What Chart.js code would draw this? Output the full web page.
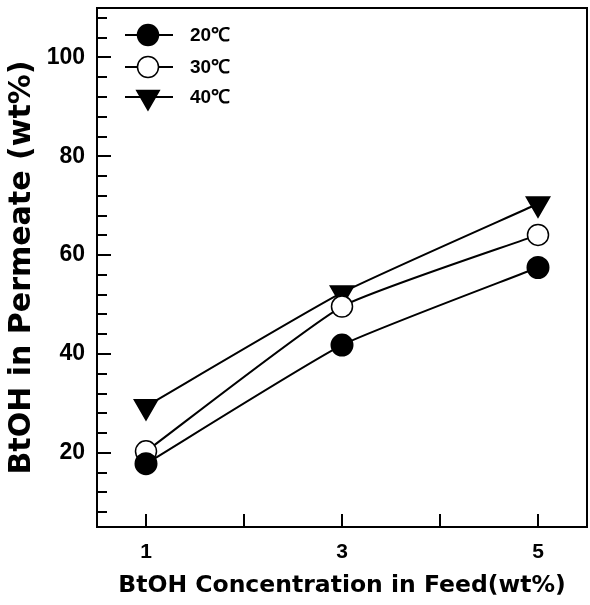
<!DOCTYPE html>
<html>
<head>
<meta charset="utf-8">
<script src="https://cdn.jsdelivr.net/npm/chart.js@4.4.0/dist/chart.umd.min.js"></script>
<style>
  html, body { margin: 0; padding: 0; background: #fff; overflow: hidden; }
  #wrap { width: 590px; height: 605px; }
</style>
</head>
<body>
<div id="wrap"><canvas id="mycanvas"></canvas></div>
<script>
// data
var feed = [1, 3, 5];
var t20 = [17.8, 41.8, 57.5];
var t30 = [20.3, 49.6, 64.1];
var t40 = [29.4, 52.4, 70.4];
var seriesNames = ['20℃', '30℃', '40℃'];

// axis ticks
var xTicks = [1, 2, 3, 4, 5];
var xLabels = [1, 3, 5];
var yTicks = [8, 12, 16, 20, 24, 28, 32, 36, 40, 44, 48, 52, 56, 60, 64, 68, 72, 76, 80, 84, 88, 92, 96, 100, 104, 108];
var yLabels = [20, 40, 60, 80, 100];

var font = "'Liberation Sans', Arial, sans-serif";
var titleFont = "'DejaVu Sans', 'Liberation Sans', sans-serif";

function toPts(ys) {
    var out = [];
    for (var i in ys) out.push({ x: feed[i], y: ys[i] });
    return out;
}

// inward tick marks, frame and the legend inside the plot
var decor = {
    id: 'decor',
    afterDraw: function(chart) {
        var ctx = chart.ctx;
        var a = chart.chartArea;
        var xs = chart.scales.x, ys = chart.scales.y;
        ctx.save();
        ctx.strokeStyle = '#000';
        ctx.lineWidth = 2;
        ctx.strokeRect(a.left, a.top, a.right - a.left, a.bottom - a.top);
        ctx.beginPath();
        yTicks.forEach(function(v) {
            var py = Math.round(ys.getPixelForValue(v));
            var len = yLabels.indexOf(v) >= 0 ? 14 : 10;
            ctx.moveTo(a.left, py);
            ctx.lineTo(a.left + len, py);
        });
        xTicks.forEach(function(v) {
            var px = Math.round(xs.getPixelForValue(v));
            ctx.moveTo(px, a.bottom);
            ctx.lineTo(px, a.bottom - 13);
        });
        ctx.stroke();

        // legend
        var lx = a.left + 28, rowY = [35, 67, 97];
        chart.data.datasets.forEach(function(ds, i) {
            var y = rowY[i];
            ctx.strokeStyle = '#000';
            ctx.lineWidth = 2;
            ctx.beginPath();
            ctx.moveTo(lx, y);
            ctx.lineTo(lx + 48, y);
            ctx.stroke();
            ctx.fillStyle = ds.pointBackgroundColor;
            ctx.lineWidth = 1.5;
            Chart.helpers.drawPoint(ctx, {
                pointStyle: ds.pointStyle,
                rotation: ds.pointRotation || 0,
                radius: ds.pointRadius,
                borderWidth: 1.5
            }, lx + 23, y);
            ctx.fillStyle = '#000';
            ctx.font = 'bold 19px ' + font;
            ctx.textBaseline = 'middle';
            ctx.fillText(ds.label, lx + 65, y + 1);
        });
        ctx.restore();
    }
};

var chartdata = {
    datasets: [
        {
            label: seriesNames[0],
            data: toPts(t20),
            borderColor: '#000',
            borderWidth: 2,
            pointStyle: 'circle',
            pointRadius: 10.5,
            pointBackgroundColor: '#000',
            pointBorderColor: '#000',
            tension: 0.15
        },
        {
            label: seriesNames[1],
            data: toPts(t30),
            borderColor: '#000',
            borderWidth: 2,
            pointStyle: 'circle',
            pointRadius: 10.5,
            pointBackgroundColor: '#fff',
            pointBorderColor: '#000',
            pointBorderWidth: 1.5,
            tension: 0.15
        },
        {
            label: seriesNames[2],
            data: toPts(t40),
            borderColor: '#000',
            borderWidth: 2,
            pointStyle: 'triangle',
            pointRotation: 180,
            pointRadius: 13,
            pointBackgroundColor: '#000',
            pointBorderColor: '#000',
            tension: 0.15
        }
    ]
};

var ctx = document.getElementById('mycanvas');
var LineGraph = new Chart(ctx, {
    type: 'line',
    data: chartdata,
    plugins: [decor],
    options: {
        responsive: true,
        maintainAspectRatio: false,
        animation: false,
        layout: { autoPadding: false, padding: { top: 8, right: 3, left: 0, bottom: 0 } },
        plugins: { legend: { display: false }, tooltip: { enabled: false } },
        scales: {
            x: {
                type: 'linear',
                min: 0.5,
                max: 5.5,
                afterBuildTicks: function(s) { s.ticks = xTicks.map(function(v) { return { value: v }; }); },
                afterFit: function(s) { s.height = 78; s.paddingLeft = 0; s.paddingRight = 0; },
                grid: { display: false, drawTicks: false },
                border: { display: true, color: '#000', width: 2 },
                ticks: {
                    autoSkip: false,
                    maxRotation: 0,
                    padding: 13,
                    color: '#000',
                    font: { family: font, size: 21, weight: 'bold' },
                    callback: function(v) { return xLabels.indexOf(v) >= 0 ? String(v) : ''; }
                },
                title: {
                    display: true,
                    text: 'BtOH Concentration in Feed(wt%)',
                    color: '#000',
                    font: { family: titleFont, size: 23.5, weight: 'bold' },
                    padding: { top: 0, bottom: 5 }
                }
            },
            y: {
                min: 5,
                max: 110,
                afterBuildTicks: function(s) { s.ticks = yTicks.map(function(v) { return { value: v }; }); },
                afterFit: function(s) { s.width = 97; s.paddingTop = 0; s.paddingBottom = 0; },
                grid: { display: false, drawTicks: false },
                border: { display: true, color: '#000', width: 2 },
                ticks: {
                    autoSkip: false,
                    padding: 12,
                    color: '#000',
                    font: { family: font, size: 23, weight: 'bold' },
                    callback: function(v) { return yLabels.indexOf(v) >= 0 ? String(v) : ''; }
                },
                title: {
                    display: true,
                    text: 'BtOH in Permeate (wt%)',
                    color: '#000',
                    font: { family: titleFont, size: 30, weight: 'bold' },
                    padding: { top: 4, bottom: 0 }
                }
            }
        }
    }
});
</script>
</body>
</html>
